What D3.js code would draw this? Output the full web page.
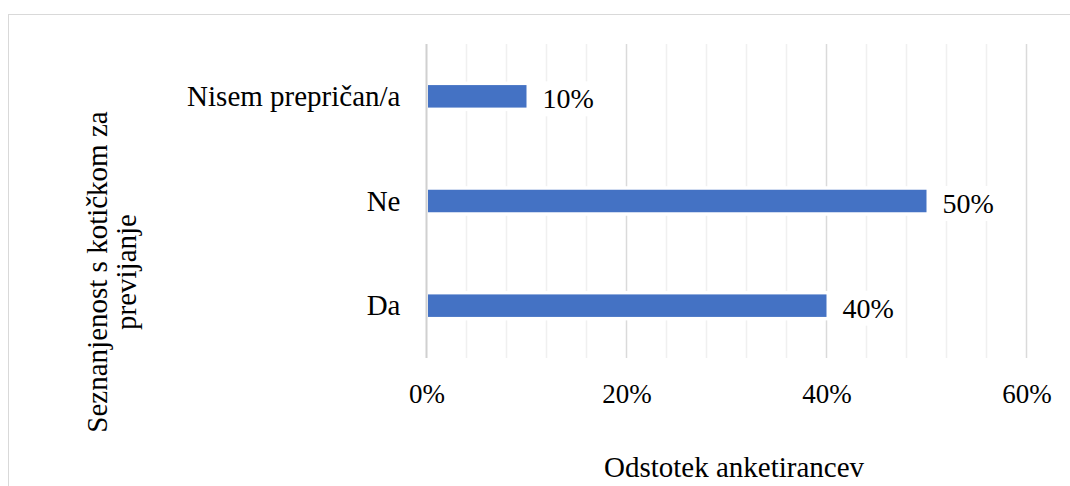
<!DOCTYPE html>
<html>
<head>
<meta charset="utf-8">
<script src="https://cdn.jsdelivr.net/npm/d3@7"></script>
<style>
  body { margin: 0; background: #fff; }
  text { font-family: "Liberation Serif", "Times New Roman", serif; fill: #000; }
</style>
</head>
<body>
<svg></svg>
<script>
// categories listed top to bottom
var categories = ["Nisem prepričan/a", "Ne", "Da"];
var values = [10, 50, 40];
var majorTicks = [0, 20, 40, 60];
var minorTicks = d3.range(0, 61, 4);
var xTitle = "Odstotek anketirancev";
var yTitle = ["Seznanjenost s kotičkom za", "previjanje"];

var svgWidth = 1070, svgHeight = 486;
var plotLeft = 426.5, plotRight = 1026.5, plotTop = 44, plotBottom = 358;

var svg = d3.select("svg")
    .attr("width", svgWidth)
    .attr("height", svgHeight);

// outer chart border
svg.append("rect")
    .attr("x", 8.5).attr("y", 14.5)
    .attr("width", 1100).attr("height", 600)
    .attr("fill", "none")
    .attr("stroke", "#d9d9d9");

var x = d3.scaleLinear().domain([0, 60]).range([plotLeft, plotRight]);
var y = d3.scaleBand().domain(categories).range([plotTop, plotBottom])
    .paddingInner(0.785).paddingOuter(0.3925);

// minor gridlines
svg.append("g")
    .selectAll("line")
    .data(minorTicks.filter(function(d) { return d % 20 !== 0; }))
    .enter().append("line")
    .attr("x1", function(d) { return x(d); })
    .attr("x2", function(d) { return x(d); })
    .attr("y1", plotTop).attr("y2", plotBottom)
    .attr("stroke", "#f0f0f0")
    .attr("stroke-width", 1.5);

// major gridlines
svg.append("g")
    .selectAll("line")
    .data(majorTicks.slice(1))
    .enter().append("line")
    .attr("x1", function(d) { return x(d); })
    .attr("x2", function(d) { return x(d); })
    .attr("y1", plotTop).attr("y2", plotBottom)
    .attr("stroke", "#dadada")
    .attr("stroke-width", 1.5);

// white halo behind bars (breaks the gridlines like the original)
svg.append("g")
    .selectAll("rect")
    .data(values)
    .enter().append("rect")
    .attr("x", x(0) + 1)
    .attr("y", function(d, i) { return y(categories[i]) - 3.5; })
    .attr("width", function(d) { return x(d) - x(0) + 3; })
    .attr("height", y.bandwidth() + 7)
    .attr("fill", "#fff");

// zero axis line
svg.append("line")
    .attr("x1", x(0)).attr("x2", x(0))
    .attr("y1", plotTop).attr("y2", plotBottom)
    .attr("stroke", "#d0d0d0")
    .attr("stroke-width", 2);

svg.append("g")
    .selectAll("rect")
    .data(values)
    .enter().append("rect")
    .attr("x", x(0) + 1.5)
    .attr("y", function(d, i) { return y(categories[i]); })
    .attr("width", function(d) { return x(d) - x(0) - 1.5; })
    .attr("height", y.bandwidth())
    .attr("fill", "#4472C4");

// data labels with white background
var labels = svg.append("g")
    .selectAll("g")
    .data(values)
    .enter().append("g");

labels.append("text")
    .attr("x", function(d) { return x(d) + 16; })
    .attr("y", function(d, i) { return y(categories[i]) + y.bandwidth() / 2 + 12; })
    .attr("font-size", 28)
    .text(function(d) { return d + "%"; });

labels.insert("rect", "text")
    .each(function() {
        var b = this.parentNode.querySelector("text").getBBox();
        d3.select(this)
            .attr("x", b.x - 3).attr("y", b.y - 2)
            .attr("width", b.width + 6).attr("height", b.height + 4)
            .attr("fill", "#fff");
    });

// x axis tick labels
var xAxis = svg.append("g")
    .attr("transform", "translate(0," + plotBottom + ")")
    .call(d3.axisBottom(x).tickValues(majorTicks).tickSize(0)
        .tickFormat(function(d) { return d + "%"; }));
xAxis.select(".domain").remove();
xAxis.selectAll("text")
    .attr("y", 45).attr("dy", 0)
    .attr("font-size", 27)
    .style("font-family", "Liberation Serif, serif")
    .attr("fill", "#000");

// y axis category labels
var yAxis = svg.append("g")
    .attr("transform", "translate(" + plotLeft + ",0)")
    .call(d3.axisLeft(y).tickSize(0).tickPadding(26));
yAxis.select(".domain").remove();
yAxis.selectAll("text")
    .attr("dy", 9.5)
    .attr("font-size", 29)
    .style("font-family", "Liberation Serif, serif")
    .attr("fill", "#000");

// axis titles
svg.append("text")
    .attr("x", 734).attr("y", 477)
    .attr("text-anchor", "middle")
    .attr("font-size", 29)
    .text(xTitle);

svg.append("text")
    .attr("transform", "translate(107,272) rotate(-90)")
    .attr("text-anchor", "middle")
    .attr("font-size", 29)
    .selectAll("tspan")
    .data(yTitle)
    .enter().append("tspan")
    .attr("x", 0)
    .attr("dy", function(d, i) { return i === 0 ? 0 : 29; })
    .text(function(d) { return d; });
</script>
</body>
</html>
